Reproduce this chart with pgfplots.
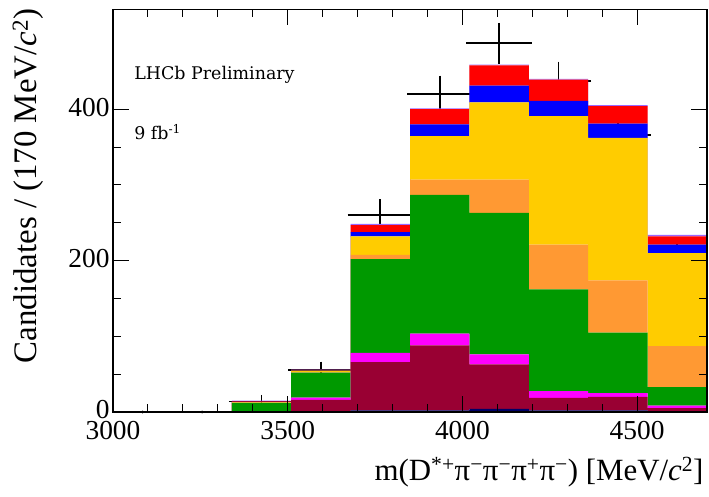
\documentclass[border=0pt]{standalone}
\usepackage{fontspec}
\setmainfont{Liberation Serif}
\newfontfamily\notefont{DejaVu Serif}
\usepackage{pgfplots}
\usepackage{pgfplotstable}
\pgfplotsset{compat=1.18}

\definecolor{cnavy}{HTML}{000066}
\definecolor{cmaroon}{HTML}{990033}
\definecolor{cmagenta}{HTML}{FF00FF}
\definecolor{cgreen}{HTML}{009900}
\definecolor{corange}{HTML}{FF9933}
\definecolor{cyellow}{HTML}{FFCC00}
\definecolor{cblue}{HTML}{0000FF}
\definecolor{cred}{HTML}{FF0000}
\definecolor{cviolet}{HTML}{9966FF}

% Fit components per 170 MeV bin (left bin edge); last row closes the final bin
\pgfplotstableread{
x    navy maroon magenta green orange yellow blue red violet
3000 0    0      0       0     0      0      0    0   0
3170 0    0      0       0     0      0      0    0   0
3340 0    0.5    0.5     11    0.5    0.5    0.5  0.5 1
3510 0.5  15.5   3       33    1      1.5    0.5  0.5 0.5
3680 2    64     12      124   5.5    24.5   5.5  9.5 1.5
3850 2    86     15.5    183.5 20     57.5   15.5 20  1
4020 4    59     13      187   44     102    22   27  1
4190 2    16.5   9       134.5 59     170    20   28  1
4360 2    18     5       80    69     188    19   23  1.5
4530 1    4      3.5     24.5  54     123    11   11  2
4700 1    4      3.5     24.5  54     123    11   11  2
}\mcstack

% Data: bin centre, candidates, half bin width, statistical error
\pgfplotstableread{
x    y    ex  ey
3425 14   85  4.5
3595 55   85  7.5
3765 260  85  17
3935 420  85  20.5
4105 487  85  23
4275 437  85  22
4445 366  85  20
4615 207  85  16
}\datapts

\begin{document}
\begin{tikzpicture}
\begin{axis}[
  scale only axis, width=594bp, height=402.7bp,
  xmin=3000, xmax=4700, ymin=0, ymax=532,
  axis on top,
  stack plots=y,
  tick align=inside, tick pos=both,
  xtick={3000,3500,4000,4500}, minor x tick num=4,
  ytick={0,200,400}, minor y tick num=3,
  major tick length=16bp, minor tick length=8bp,
  every tick/.style={black, line width=1bp},
  axis line style={line width=1.2bp},
  tick label style={font=\fontsize{27.5}{30}\selectfont},
  /pgf/number format/assume math mode=true,
  /pgf/number format/set thousands separator={},
  xticklabel style={yshift=-6bp},
  yticklabel style={yshift=2bp},
  label style={font=\fontsize{31}{36}\selectfont},
  xlabel={m(D\textsuperscript{*+}π\textsuperscript{−}π\textsuperscript{−}π\textsuperscript{+}π\textsuperscript{−}) [MeV/\textit{c}\textsuperscript{2}]},
  ylabel={Candidates / (170 MeV/\textit{c}\textsuperscript{2})},
  xlabel style={at={(axis description cs:1,0)}, anchor=base east, yshift=-68bp},
  ylabel style={at={(axis description cs:-0.128,1.0099)}, anchor=base east,
    font=\fontsize{33}{38}\selectfont},
]
\addplot[const plot, fill=cnavy, draw=none] table[x=x, y=navy] {\mcstack} \closedcycle;
\addplot[const plot, fill=cmaroon, draw=none] table[x=x, y=maroon] {\mcstack} \closedcycle;
\addplot[const plot, fill=cmagenta, draw=none] table[x=x, y=magenta] {\mcstack} \closedcycle;
\addplot[const plot, fill=cgreen, draw=none] table[x=x, y=green] {\mcstack} \closedcycle;
\addplot[const plot, fill=corange, draw=none] table[x=x, y=orange] {\mcstack} \closedcycle;
\addplot[const plot, fill=cyellow, draw=none] table[x=x, y=yellow] {\mcstack} \closedcycle;
\addplot[const plot, fill=cblue, draw=none] table[x=x, y=blue] {\mcstack} \closedcycle;
\addplot[const plot, fill=cred, draw=none] table[x=x, y=red] {\mcstack} \closedcycle;
\addplot[const plot, fill=cviolet, draw=none] table[x=x, y=violet] {\mcstack} \closedcycle;

% data points with error bars
\addplot[stack plots=false, black, line width=1.8bp, draw=none, mark=none,
  error bars/.cd, x dir=both, x explicit, y dir=both, y explicit,
  error bar style={draw=black, line width=1.8bp},
  error mark options={draw=black, line width=1.8bp, mark size=3bp}]
  table[x=x, y=y, x error=ex, y error=ey] {\datapts};
% empty bins
\addplot[stack plots=false, only marks, mark=*, mark size=1.2bp, black]
  coordinates {(3085,0) (3255,0)};

\node[anchor=base west, font=\notefont\fontsize{17.5}{20}\selectfont] at (axis cs:3051,439) {LHCb Preliminary};
\node[anchor=base west, font=\notefont\fontsize{17.5}{20}\selectfont] at (axis cs:3051,360) {9 fb\textsuperscript{-1}};
\end{axis}
\pgfresetboundingbox
\useasboundingbox (-113bp,-85bp) rectangle (596bp,412bp);
\end{tikzpicture}
\end{document}
